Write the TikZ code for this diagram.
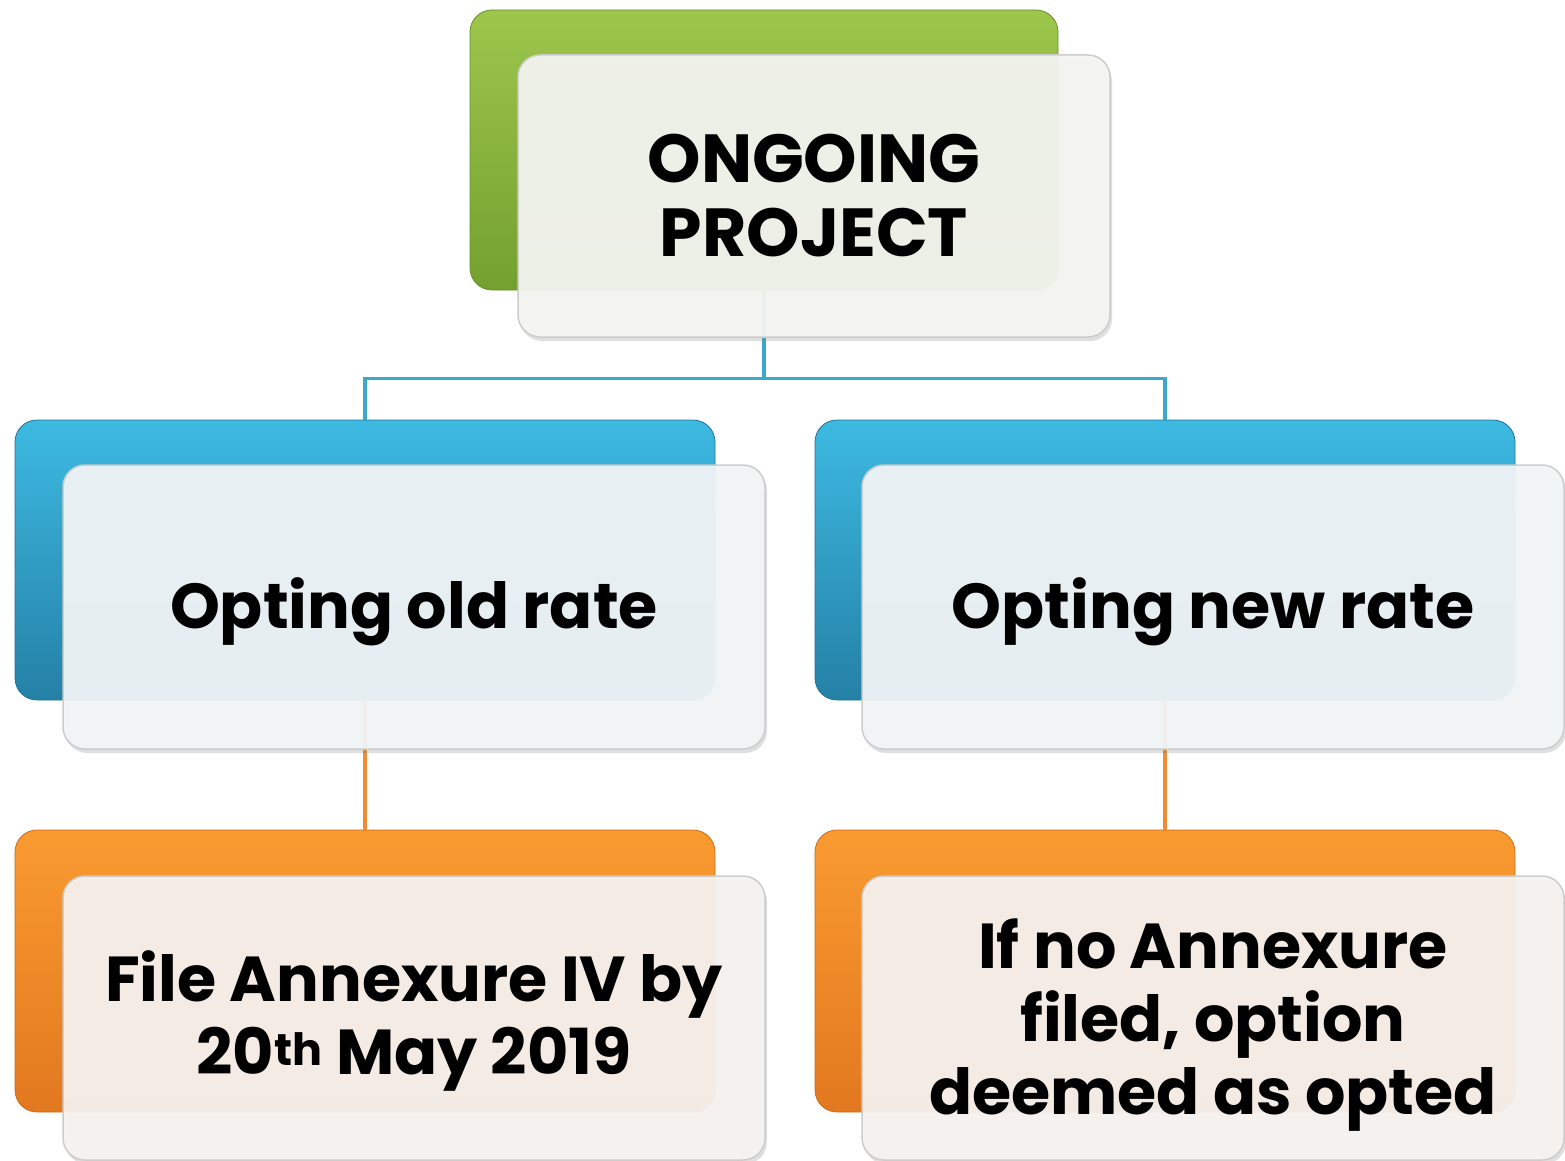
\documentclass[tikz,border=0pt]{standalone}
\usepackage{fontspec}
\setmainfont{Poppins}
\usetikzlibrary{positioning,shadows}

\definecolor{greentop}{HTML}{9DC64C}
\definecolor{greenbot}{HTML}{74A02F}
\definecolor{bluetop}{HTML}{3DBAE2}
\definecolor{bluebot}{HTML}{2580A6}
\definecolor{orangetop}{HTML}{F99B31}
\definecolor{orangebot}{HTML}{E2781F}
\definecolor{greenfront}{HTML}{F4F5F1}
\definecolor{bluefront}{HTML}{F2F5F7}
\definecolor{orangefront}{HTML}{F6F2EF}
\definecolor{bluelink}{HTML}{3BA9CF}
\definecolor{orangelink}{HTML}{F08B33}

\tikzset{
  backbox/.style={rounded corners=22pt, minimum width=700pt, minimum height=280pt, inner sep=0pt, draw=#1bot!90!black, line width=0.8pt, top color=#1top, bottom color=#1bot},
  frontbox/.style={rounded corners=22pt, minimum width=702pt, minimum height=284pt, inner sep=0pt, fill=#1front, fill opacity=0.94, text opacity=1, draw=gray!40, line width=1.5pt, align=center, font=\fontsize{63.5}{73}\selectfont\bfseries, drop shadow={opacity=0.25, shadow xshift=2pt, shadow yshift=-4pt}},
  link/.style={draw=#1link, line width=3.5pt}
}

\begin{document}
\begin{tikzpicture}[x=1pt, y=-1pt]
\useasboundingbox (0,0) rectangle (1565,1161);
% Back boxes
\node[backbox=green, minimum width=588pt] (proj) at (764,150) {};
\node[backbox=blue] (oldrate) at (365,560) {};
\node[backbox=blue] (newrate) at (1165,560) {};
\node[backbox=orange, minimum height=282pt] (oldfile) at (365,971) {};
\node[backbox=orange, minimum height=282pt] (newfile) at (1165,971) {};
% Connectors
\draw[link=blue] (proj.south) -- ++(0,88) -| (oldrate.north);
\draw[link=blue] (proj.south) -- ++(0,88) -| (newrate.north);
\draw[link=orange] (oldrate.south) -- (oldfile.north);
\draw[link=orange] (newrate.south) -- (newfile.north);
% Front boxes
\node[frontbox=green, minimum width=592pt, minimum height=282pt, font=\fontsize{68}{74}\selectfont\bfseries] (proj-f) at (814,196) {ONGOING\\PROJECT};
\node[frontbox=blue, text height=60pt] (oldrate-f) at (414,607) {Opting old rate};
\node[frontbox=blue, text height=60pt] (newrate-f) at (1213,607) {Opting new rate};
\node[frontbox=orange, text height=130pt] (oldfile-f) at (414,1018) {File Annexure IV by\\20\textsuperscript{th} May 2019};
\node[frontbox=orange, text height=209pt] (newfile-f) at (1213,1018) {If no Annexure\\filed, option\\deemed as opted};
\end{tikzpicture}
\end{document}
